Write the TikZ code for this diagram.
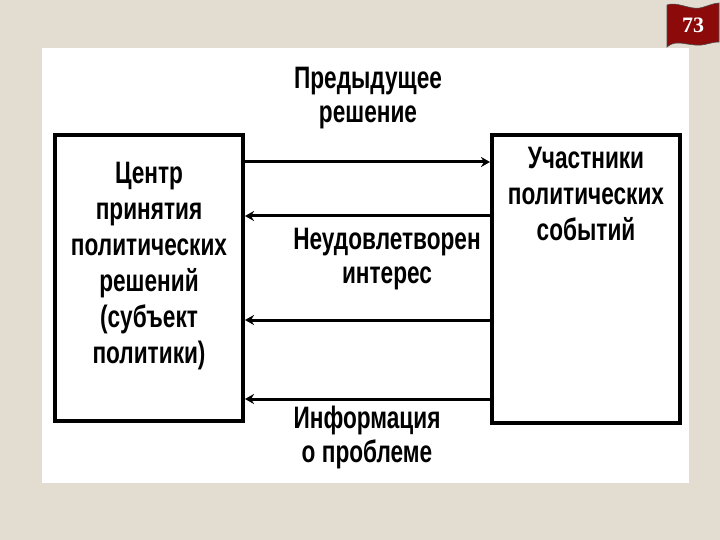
\documentclass[tikz,border=0pt]{standalone}
\usepackage{fontspec}
\usetikzlibrary{arrows.meta,positioning}
\newfontfamily\diagfont[FakeStretch=0.73]{Liberation Sans Bold}
\newfontfamily\numfont{Liberation Serif Bold}
\definecolor{cpaper}{HTML}{E2DCD1}
\definecolor{cflag}{HTML}{8C0A0A}

\begin{document}
\begin{tikzpicture}[x=1pt,y=-1pt,
  font=\diagfont\fontsize{31}{36}\selectfont,
  box/.style={draw=black,line width=4pt,inner sep=0pt,minimum width=188pt},
  boxtxt/.style={align=center,inner sep=0pt},
  lbl/.style={align=center,inner sep=0pt,anchor=north,
              font=\diagfont\fontsize{31}{34}\selectfont},
  arr/.style={-{Stealth[length=9pt,width=10pt]},line width=3pt}]
  % slide and sheet
  \fill[cpaper] (0,0) rectangle (720,540);
  \fill[white] (42,48) rectangle (689,483);
  % page badge
  \fill[cflag,draw=black!70,line width=0.6pt] (667,5)
    .. controls (676,1) and (690,10) .. (700,8)
    .. controls (708,6) and (714,3) .. (719,3) -- (719,42)
    .. controls (710,42) and (705,46) .. (695,45)
    .. controls (683,44) and (675,40) .. (667,47) -- cycle;
  \node[text=white,inner sep=0pt,font=\numfont\fontsize{22}{22}\selectfont] (pg) at (693,25) {73};
  % the two boxes
  \node[box,minimum height=286pt] (ctr) at (149,278) {};
  \node[box,minimum height=288pt] (part) at (586,279) {};
  \node[boxtxt,below=29pt of ctr.north] (ctrtxt)
    {Центр\\принятия\\политических\\решений\\(субъект\\политики)};
  \node[boxtxt,below=14pt of part.north] (parttxt)
    {Участники\\политических\\событий};
  % flows
  \coordinate (r1) at (0,162);
  \coordinate (r2) at (0,216);
  \coordinate (r3) at (0,320);
  \coordinate (r4) at (0,399);
  \draw[arr] (ctr.east |- r1) -- (part.west |- r1);
  \foreach \r in {r2,r3,r4}
     \draw[arr] (part.west |- \r) -- (ctr.east |- \r);
  \node[lbl] (prev) at (368,67) {Предыдущее\\решение};
  \node[lbl] (need) at (387,228) {Неудовлетворен\\интерес};
  \node[lbl] (info) at (367,406) {Информация\\о проблеме};
\end{tikzpicture}
\end{document}
